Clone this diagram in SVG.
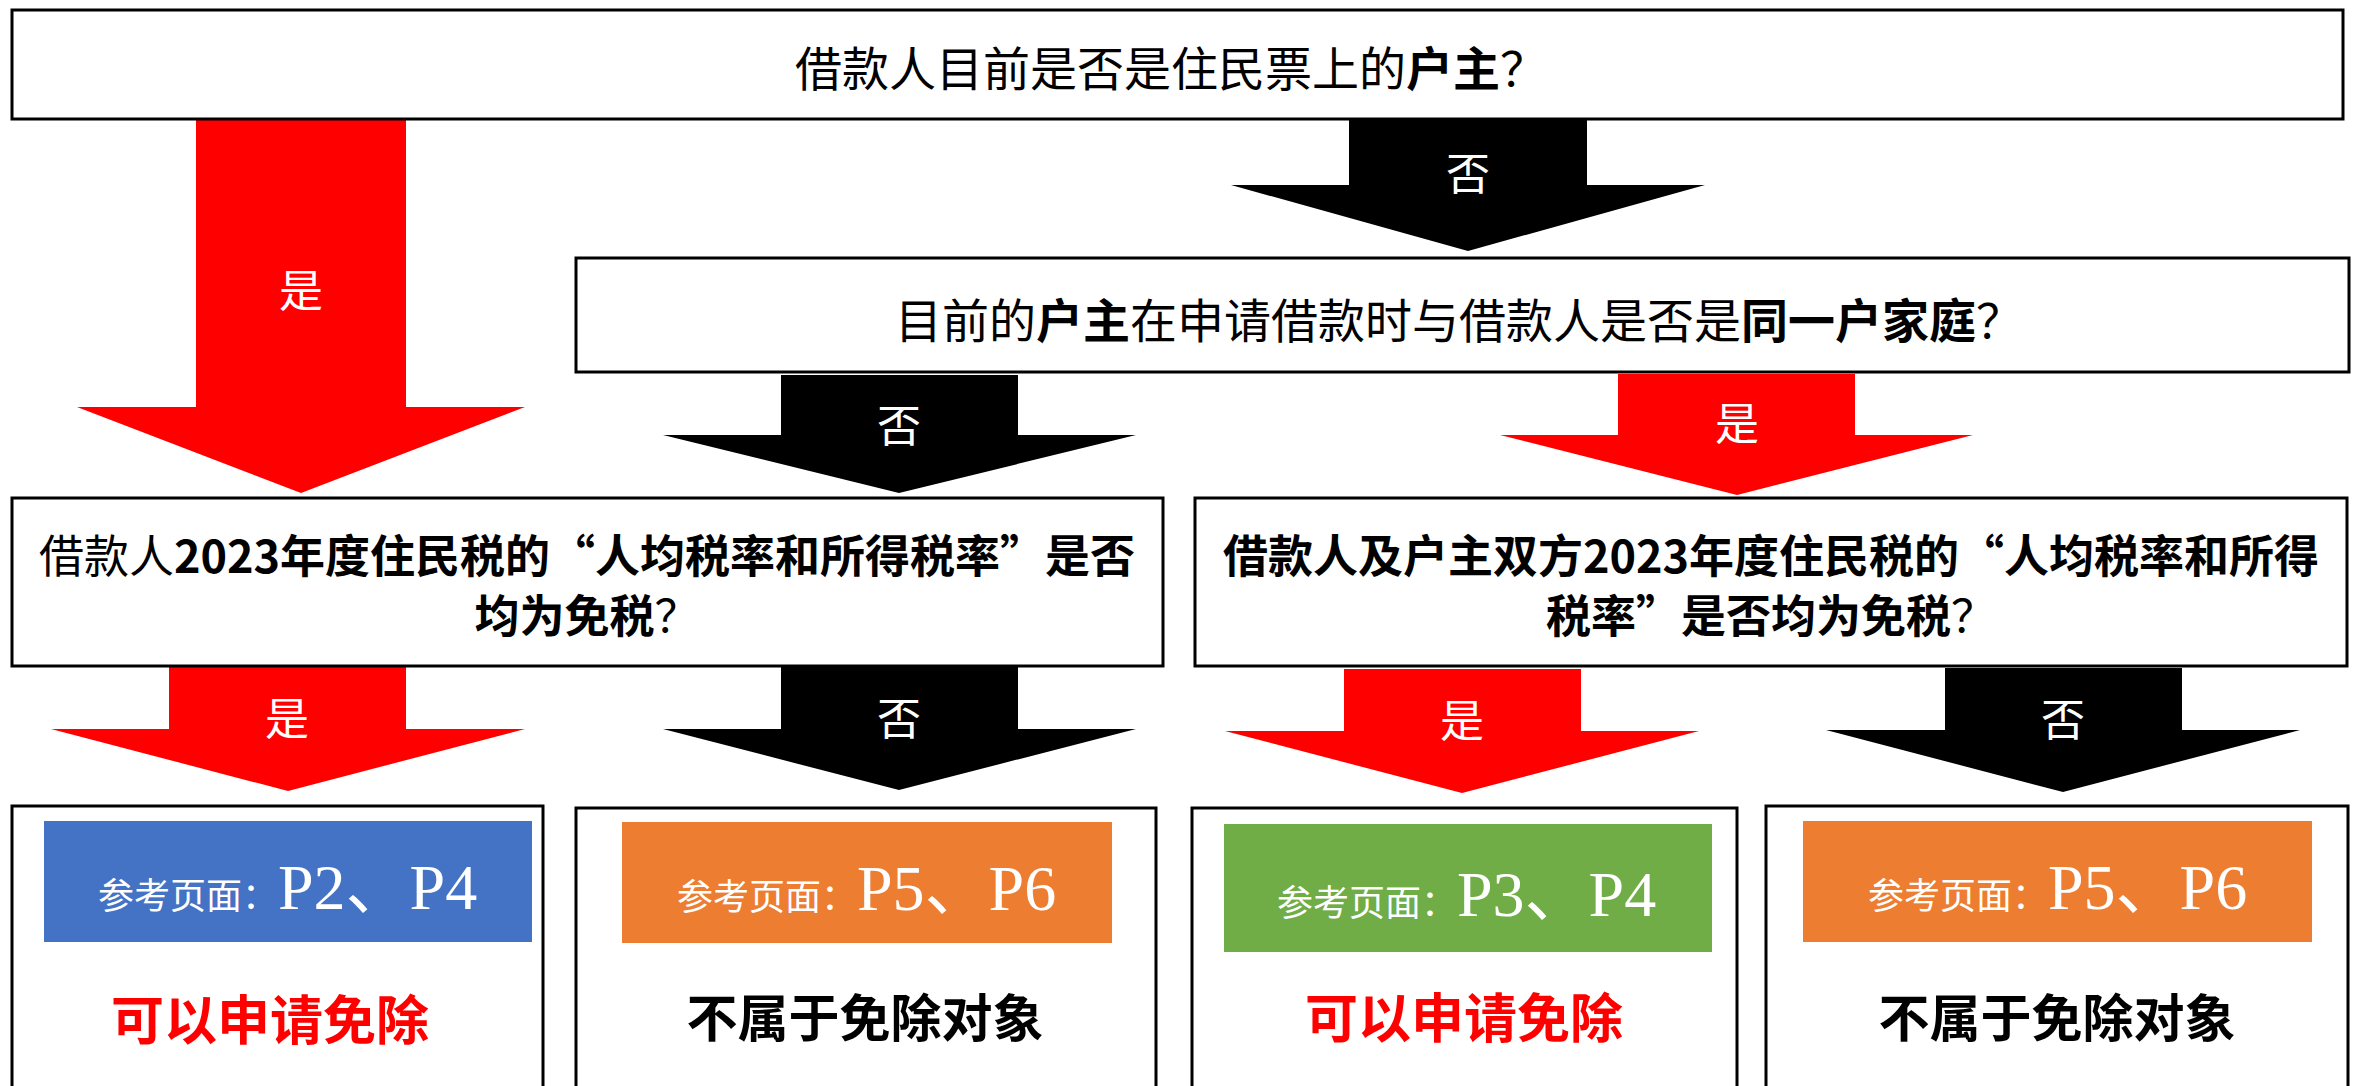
<svg xmlns="http://www.w3.org/2000/svg" width="2358" height="1086" viewBox="0 0 2358 1086">
<style>
text{font-family:"Noto Sans CJK SC","Noto Sans CJK JP",sans-serif;}
.box{fill:#fff;stroke:#000;stroke-width:3;}
.q{font-size:47px;fill:#000;font-weight:400;}
.d{font-size:45px;fill:#000;font-weight:700;}
.b{font-weight:700;}
.r{font-weight:400;}
.red{fill:#FF0000;}
.blk{fill:#000;}
.lbl{font-size:44px;fill:#fff;text-anchor:middle;font-weight:400;}
.sm{font-size:36px;fill:#fff;}
.big{font-size:64px;fill:#fff;font-family:"Liberation Serif","Noto Sans CJK SC",serif;}
.yes{font-size:53px;fill:#FF0000;font-weight:700;text-anchor:middle;}
.no{font-size:51px;fill:#000;font-weight:700;text-anchor:middle;}
</style>
<rect width="2358" height="1086" fill="#fff"/>
<g id="connectors">
<polygon class="red" points="196,119 406,119 406,407 525,407 301,493 77,407 196,407"/>
<text class="lbl" x="301" y="307">是</text>
<polygon class="blk" points="1349,120 1587,120 1587,185 1705,185 1468,251 1231,185 1349,185"/>
<text class="lbl" x="1468" y="190">否</text>
<polygon class="blk" points="781,375 1018,375 1018,435 1136,435 899,493 663,435 781,435"/>
<text class="lbl" x="899" y="442">否</text>
<polygon class="red" points="1618,374 1855,374 1855,435 1973,435 1737,495 1500,435 1618,435"/>
<text class="lbl" x="1737" y="440">是</text>
<polygon class="red" points="169,667 406,667 406,729 525,729 288,791 51,729 169,729"/>
<text class="lbl" x="287" y="735">是</text>
<polygon class="blk" points="781,667 1018,667 1018,729 1136,729 899,790 663,729 781,729"/>
<text class="lbl" x="899" y="735">否</text>
<polygon class="red" points="1344,669 1581,669 1581,731 1699,731 1462,793 1225,731 1344,731"/>
<text class="lbl" x="1462" y="737">是</text>
<polygon class="blk" points="1945,668 2182,668 2182,730 2300,730 2063,792 1826,730 1945,730"/>
<text class="lbl" x="2063" y="736">否</text>
</g>
<g id="q1">
<rect class="box" x="12" y="10" width="2331" height="109"/>
<text class="q" x="795" y="86">借款人目前是否是住民票上的<tspan class="b">户主</tspan>？</text>
</g>
<g id="q2">
<rect class="box" x="576" y="258" width="1773" height="114"/>
<text class="q" x="895" y="338">目前的<tspan class="b">户主</tspan>在申请借款时与借款人是否是<tspan class="b">同一户家庭</tspan>？</text>
</g>
<g id="q3">
<rect class="box" x="12" y="498" width="1151" height="168"/>
<text class="d" x="587" y="573" text-anchor="middle"><tspan class="r">借款人</tspan>2023年度住民税的“人均税率和所得税率”是否</text>
<text class="d" x="587" y="633" text-anchor="middle">均为免税<tspan class="r">？</tspan></text>
</g>
<g id="q4">
<rect class="box" x="1195" y="498" width="1152" height="168"/>
<text class="d" x="1771" y="573" text-anchor="middle">借款人及户主双方2023年度住民税的“人均税率和所得</text>
<text class="d" x="1771" y="633" text-anchor="middle">税率”是否均为免税<tspan class="r">？</tspan></text>
</g>
<g id="r1">
<rect class="box" x="12" y="806" width="531" height="300"/>
<rect x="44" y="821" width="488" height="121" fill="#4472C4"/>
<text x="98" y="909"><tspan class="sm">参考页面：</tspan><tspan class="big">P2、P4</tspan></text>
<text class="yes" x="270" y="1040">可以申请免除</text>
</g>
<g id="r2">
<rect class="box" x="576" y="808" width="580" height="300"/>
<rect x="622" y="822" width="490" height="121" fill="#ED7D31"/>
<text x="677" y="910"><tspan class="sm">参考页面：</tspan><tspan class="big">P5、P6</tspan></text>
<text class="no" x="865" y="1037">不属于免除对象</text>
</g>
<g id="r3">
<rect class="box" x="1192" y="808" width="545" height="300"/>
<rect x="1224" y="824" width="488" height="128" fill="#70AD47"/>
<text x="1277" y="916"><tspan class="sm">参考页面：</tspan><tspan class="big">P3、P4</tspan></text>
<text class="yes" x="1464" y="1038">可以申请免除</text>
</g>
<g id="r4">
<rect class="box" x="1766" y="806" width="582" height="300"/>
<rect x="1803" y="821" width="509" height="121" fill="#ED7D31"/>
<text x="1868" y="909"><tspan class="sm">参考页面：</tspan><tspan class="big">P5、P6</tspan></text>
<text class="no" x="2057" y="1037">不属于免除对象</text>
</g>
</svg>
